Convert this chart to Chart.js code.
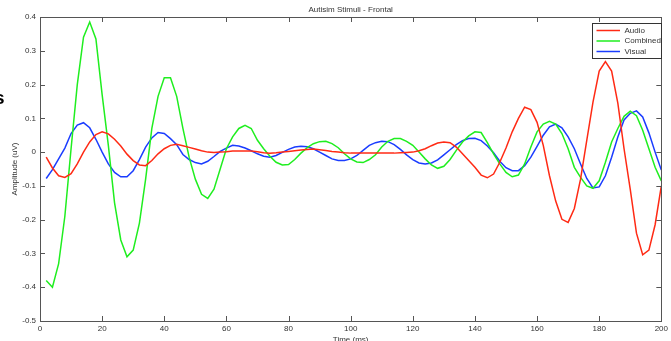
<!DOCTYPE html>
<html>
<head>
<meta charset="utf-8">
<script src="https://cdn.jsdelivr.net/npm/chart.js@4.4.1/dist/chart.umd.min.js"></script>
<style>
  body { margin: 0; background: #fff; }
  canvas { display: block; }
</style>
</head>
<body>
<canvas id="grafico" width="671" height="341"></canvas>
<script>
// eixo do tempo (ms)
const timeMs = [2,4,6,8,10,12,14,16,18,20,22,24,26,28,30,32,34,36,38,40,
  42,44,46,48,50,52,54,56,58,60,62,64,66,68,70,72,74,76,78,80,
  82,84,86,88,90,92,94,96,98,100,102,104,106,108,110,112,114,116,118,120,
  122,124,126,128,130,132,134,136,138,140,142,144,146,148,150,152,154,156,158,160,
  162,164,166,168,170,172,174,176,178,180,182,184,186,188,190,192,194,196,198,200];

const audio = [-0.015,-0.047,-0.07,-0.075,-0.064,-0.035,0.0,0.03,0.052,0.06,
  0.054,0.038,0.018,-0.006,-0.025,-0.038,-0.04,-0.025,-0.005,0.01,
  0.02,0.023,0.019,0.014,0.009,0.004,0.0,-0.001,0.0,0.001,
  0.003,0.003,0.003,0.003,0.001,-0.002,-0.003,-0.002,0.0,0.002,
  0.004,0.006,0.008,0.009,0.007,0.005,0.002,0.0,-0.002,-0.003,
  -0.003,-0.003,-0.003,-0.003,-0.003,-0.003,-0.003,-0.002,-0.001,0.0,
  0.004,0.01,0.019,0.027,0.03,0.028,0.015,-0.005,-0.025,-0.045,
  -0.068,-0.076,-0.065,-0.03,0.012,0.06,0.1,0.133,0.126,0.088,
  0.02,-0.07,-0.145,-0.199,-0.208,-0.167,-0.08,0.035,0.148,0.24,
  0.268,0.24,0.145,0.01,-0.11,-0.24,-0.304,-0.29,-0.215,-0.1];

const combined = [-0.38,-0.40,-0.33,-0.19,0.01,0.20,0.34,0.385,0.335,0.17,
  0.02,-0.15,-0.26,-0.31,-0.29,-0.21,-0.08,0.07,0.165,0.22,
  0.22,0.165,0.07,-0.015,-0.08,-0.125,-0.137,-0.11,-0.05,0.01,
  0.045,0.07,0.079,0.07,0.035,0.01,-0.012,-0.03,-0.038,-0.037,
  -0.022,-0.003,0.013,0.025,0.031,0.032,0.025,0.013,-0.005,-0.02,
  -0.029,-0.031,-0.022,-0.008,0.015,0.032,0.04,0.04,0.032,0.02,
  0.0,-0.02,-0.038,-0.048,-0.042,-0.022,0.005,0.03,0.048,0.06,
  0.058,0.028,-0.005,-0.035,-0.06,-0.073,-0.068,-0.035,0.015,0.06,
  0.083,0.091,0.083,0.055,0.01,-0.045,-0.075,-0.1,-0.107,-0.085,
  -0.03,0.03,0.07,0.106,0.121,0.108,0.065,0.01,-0.045,-0.085];

const visual = [-0.078,-0.052,-0.02,0.012,0.055,0.08,0.087,0.072,0.038,0.0,
  -0.035,-0.06,-0.073,-0.073,-0.055,-0.022,0.015,0.042,0.058,0.055,
  0.04,0.022,-0.007,-0.022,-0.031,-0.035,-0.027,-0.013,0.002,0.012,
  0.02,0.018,0.012,0.004,-0.005,-0.012,-0.015,-0.01,-0.001,0.008,
  0.015,0.017,0.016,0.01,0.0,-0.01,-0.02,-0.025,-0.025,-0.02,
  -0.01,0.005,0.02,0.028,0.032,0.031,0.022,0.008,-0.008,-0.022,
  -0.032,-0.035,-0.032,-0.023,-0.008,0.007,0.022,0.034,0.04,0.041,
  0.034,0.018,-0.002,-0.027,-0.046,-0.055,-0.055,-0.04,-0.015,0.017,
  0.05,0.075,0.083,0.072,0.045,0.01,-0.035,-0.078,-0.106,-0.103,
  -0.07,-0.015,0.045,0.095,0.115,0.122,0.104,0.057,0.0,-0.053];

const xTicks = [0, 20, 40, 60, 80, 100, 120, 140, 160, 180, 200];
const yTicks = [-0.5, -0.4, -0.3, -0.2, -0.1, 0, 0.1, 0.2, 0.3, 0.4];

function pontos(serie) {
  return timeMs.map((t, i) => ({ x: t, y: serie[i] }));
}

const corEixo = '#555';
const corTexto = '#333';
const fonte = 'Arial, "Liberation Sans", sans-serif';

// moldura estilo MATLAB, ticks para dentro, títulos e legenda
const estiloMatlab = {
  id: 'estiloMatlab',
  afterDatasetsDraw(chart) {
    const ctx = chart.ctx;
    const a = chart.chartArea;
    const sx = chart.scales.x, sy = chart.scales.y;
    ctx.save();
    ctx.strokeStyle = corEixo;
    ctx.lineWidth = 1;
    ctx.strokeRect(Math.round(a.left) + 0.5, Math.round(a.top) + 0.5,
      Math.round(a.right - a.left), Math.round(a.bottom - a.top));
    ctx.beginPath();
    xTicks.forEach(v => {
      const px = Math.round(sx.getPixelForValue(v)) + 0.5;
      ctx.moveTo(px, a.top); ctx.lineTo(px, a.top + 5);
      ctx.moveTo(px, a.bottom); ctx.lineTo(px, a.bottom - 5);
    });
    yTicks.forEach(v => {
      const py = Math.round(sy.getPixelForValue(v)) + 0.5;
      ctx.moveTo(a.left, py); ctx.lineTo(a.left + 5, py);
      ctx.moveTo(a.right, py); ctx.lineTo(a.right - 5, py);
    });
    ctx.stroke();

    // legenda
    const lx = 592.5, ly = 23.5, lw = 69, lh = 35;
    ctx.fillStyle = '#fff';
    ctx.fillRect(lx, ly, lw, lh);
    ctx.strokeStyle = '#333';
    ctx.strokeRect(lx, ly, lw, lh);
    ctx.font = '8px ' + fonte;
    ctx.textBaseline = 'middle';
    ctx.textAlign = 'left';
    chart.data.datasets.forEach((ds, i) => {
      const yy = ly + 7 + i * 10.5;
      ctx.strokeStyle = ds.borderColor;
      ctx.lineWidth = 1.5;
      ctx.beginPath();
      ctx.moveTo(lx + 4, yy); ctx.lineTo(lx + 27.5, yy);
      ctx.stroke();
      ctx.fillStyle = corTexto;
      ctx.fillText(ds.label, lx + 32, yy);
    });

    // títulos
    const cx = (a.left + a.right) / 2;
    ctx.fillStyle = corTexto;
    ctx.textAlign = 'center';
    ctx.font = '8px ' + fonte;
    ctx.fillText('Autisim Stimuli - Frontal', cx, 9.5);
    ctx.fillText('Time (ms)', cx, 339.5);
    ctx.save();
    ctx.translate(15, 169);
    ctx.rotate(-Math.PI / 2);
    ctx.fillText('Amplitude (uV)', 0, 0);
    ctx.restore();

    // resto de texto cortado na margem esquerda
    ctx.fillStyle = '#000';
    ctx.textAlign = 'left';
    ctx.textBaseline = 'alphabetic';
    ctx.font = 'bold 19px ' + fonte;
    ctx.fillText('s', -6, 104);
    ctx.restore();
  }
};

const config = {
  type: 'line',
  data: {
    datasets: [
      { label: 'Audio', data: pontos(audio), borderColor: '#ff2a14' },
      { label: 'Combined', data: pontos(combined), borderColor: '#1fee1f' },
      { label: 'Visual', data: pontos(visual), borderColor: '#1a3cff' }
    ]
  },
  options: {
    responsive: false,
    animation: false,
    devicePixelRatio: 1,
    layout: { padding: { top: 17, right: 6, left: 0, bottom: 0 } },
    elements: {
      point: { radius: 0 },
      line: { borderWidth: 1.5, tension: 0, fill: false }
    },
    plugins: {
      legend: { display: false },
      title: { display: false },
      tooltip: { enabled: false }
    },
    scales: {
      x: {
        type: 'linear',
        min: 0, max: 200,
        afterFit: s => { s.height = 20; },
        afterBuildTicks: s => { s.ticks = xTicks.map(v => ({ value: v })); },
        grid: { display: false, drawTicks: false },
        border: { display: false },
        ticks: { padding: 3, color: corTexto, font: { size: 8, family: fonte }, maxRotation: 0,
          callback: v => String(v) }
      },
      y: {
        min: -0.5, max: 0.4,
        afterFit: s => { s.width = 40; },
        afterBuildTicks: s => { s.ticks = yTicks.map(v => ({ value: v })); },
        grid: { display: false, drawTicks: false },
        border: { display: false },
        ticks: { padding: 4, color: corTexto, font: { size: 8, family: fonte },
          callback: v => String(Math.round(v * 10) / 10) }
      }
    }
  },
  plugins: [estiloMatlab]
};

new Chart(document.getElementById('grafico'), config);
</script>
</body>
</html>
